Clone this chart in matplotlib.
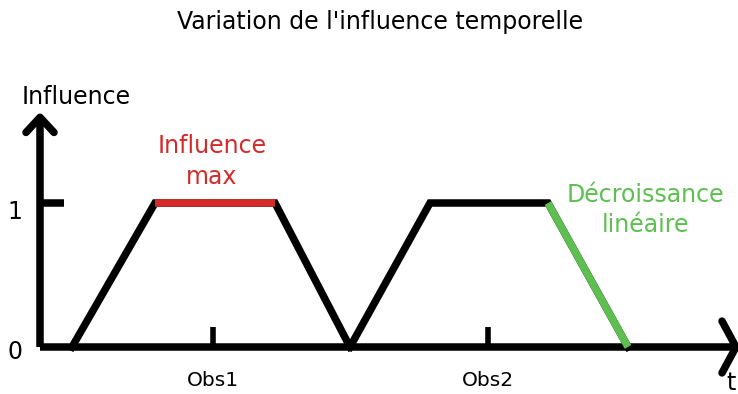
import matplotlib
matplotlib.use("Agg")
from matplotlib import pyplot as plt

# temporal influence profile: two observations, each a trapezoid (rise, plateau, linear decay)
t1 = [3.2, 11.5, 23.5, 31.0]
t2 = [31.0, 39.0, 50.8, 58.8]
influence = [0, 1, 1, 0]
obs_t = [17.3, 44.8]
obs_labels = ["Obs1", "Obs2"]

red = "#d42a2a"
green = "#5cbf4f"
lw = 5.4

fig = plt.figure(figsize=(7.38, 3.94), dpi=100)
ax = fig.add_axes([0, 0, 1, 1])
ax.set_xlim(-4.0, 69.8)
ax.set_ylim(-47 / 144, 347 / 144)
ax.axis("off")

# axes drawn by hand with open arrow heads
ax.plot([0, 0], [0, 1.59], color="black", lw=lw, solid_capstyle="butt")
ax.plot([-1.4, 0, 1.4], [1.49, 1.595, 1.49], color="black", lw=lw, solid_capstyle="round")
ax.plot([0, 69.5], [0, 0], color="black", lw=lw, solid_capstyle="butt")
ax.plot([68.2, 69.6, 68.2], [0.18, 0, -0.18], color="black", lw=lw, solid_capstyle="round")

# tick marks
ax.plot([0, 2.4], [1, 1], color="black", lw=lw, solid_capstyle="butt")
for t, lab in zip(obs_t, obs_labels):
    ax.plot([t, t], [0, 0.14], color="black", lw=4, solid_capstyle="butt")
    ax.text(t, -0.236, lab, ha="center", va="center", fontsize=14.5)

# first observation, plateau highlighted
ax.plot(t1, influence, color="black", lw=lw, solid_joinstyle="miter")
ax.plot(t1[1:3], influence[1:3], color=red, lw=lw, solid_capstyle="butt")

# second observation, decay highlighted
ax.plot(t2, influence, color="black", lw=lw, solid_joinstyle="miter")
ax.plot(t2[2:], influence[2:], color=green, lw=lw, solid_capstyle="butt")

ax.text(-2.5, -0.035, "0", ha="center", va="center", fontsize=17)
ax.text(-2.5, 0.94, "1", ha="center", va="center", fontsize=17)
ax.text(-1.8, 1.736, "Influence", ha="left", va="center", fontsize=17)
ax.text(68.6, -0.25, "t", ha="left", va="center", fontsize=17)

ax.text(17.2, 1.29, "Influence\nmax", ha="center", va="center", fontsize=17,
        color=red, linespacing=1.38)
ax.text(60.5, 0.95, "Décroissance\nlinéaire", ha="center", va="center", fontsize=17,
        color=green, linespacing=1.3)

ax.text(34.0, 2.257, "Variation de l'influence temporelle", ha="center", va="center",
        fontsize=17)

fig.savefig("out.png", dpi=100)
